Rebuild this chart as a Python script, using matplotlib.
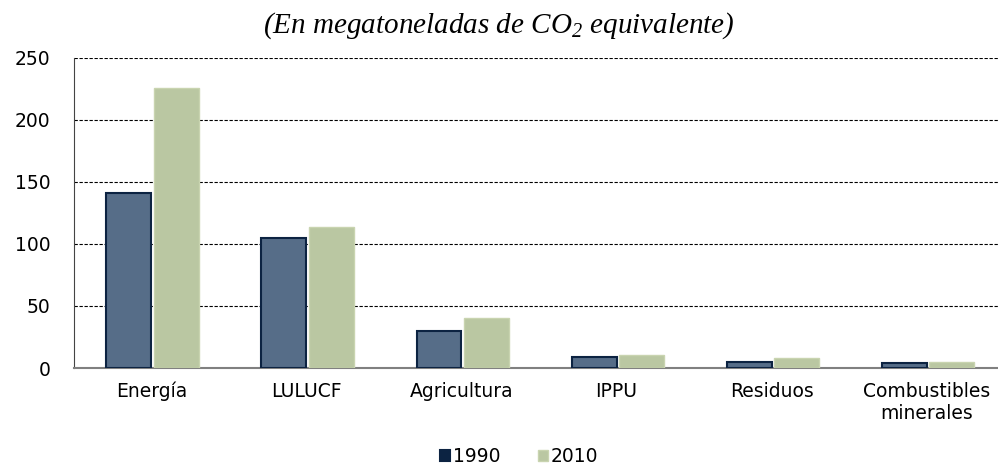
import matplotlib
matplotlib.use("Agg")
import matplotlib.pyplot as plt
import numpy as np

plt.rcParams["font.family"] = ["DejaVu Sans"]
plt.rcParams["mathtext.fontset"] = "custom"
plt.rcParams["mathtext.rm"] = "Liberation Serif:italic"
plt.rcParams["mathtext.it"] = "Liberation Serif:italic"

categorias = ["Energía", "LULUCF", "Agricultura", "IPPU", "Residuos",
              "Combustibles\nminerales"]
v1990 = [141, 105, 30, 9, 5, 4]
v2010 = [226, 114, 40, 10.5, 8, 5]
series = ["1990", "2010"]

fig = plt.figure(figsize=(9.98, 4.70), dpi=100)
# área del gráfico: x 74..998 px, y 58..368 px
ax = fig.add_axes([0.074, 0.217, 0.926, 0.66])

x = np.arange(len(categorias))
w = 0.29
ax.bar(x - 0.145, v1990, width=w, color="#566d88",
       edgecolor="#0c2342", linewidth=1.5, label=series[0], zorder=3)
ax.bar(x + 0.16, v2010, width=w, color="#bac7a2",
       edgecolor="#c9d4b0", linewidth=1.0, label=series[1], zorder=3)

ax.set_ylim(0, 250)
ax.set_xlim(-0.5, len(categorias) - 0.54)
ax.set_yticks([0, 50, 100, 150, 200, 250])
ax.set_xticks(x)
ax.set_xticklabels(categorias, fontsize=13.5)
ax.tick_params(axis="y", labelsize=13.5, length=0, pad=17)
ax.tick_params(axis="x", length=0, pad=10)
ax.yaxis.grid(True, linestyle=(0, (3, 1.5)), color="black", linewidth=0.8,
              zorder=0)
ax.set_axisbelow(True)
for s in ["top", "right"]:
    ax.spines[s].set_visible(False)
ax.spines["left"].set_color("#444444")
ax.spines["left"].set_linewidth(0.8)
ax.spines["bottom"].set_color("#808080")
ax.spines["bottom"].set_linewidth(1.5)

fig.text(0.5, 0.945, "(En megatoneladas de CO$_2$ equivalente)",
         ha="center", va="center", fontsize=21, style="italic",
         family="Liberation Serif")

leg = fig.legend(loc="center", bbox_to_anchor=(0.52, 0.028), ncol=2,
                 frameon=False, fontsize=13.5, handlelength=0.55,
                 handleheight=0.55, handletextpad=0.15, columnspacing=2.0,
                 borderaxespad=0, borderpad=0)
leg.legend_handles[0].set_facecolor("#0c2342")

fig.savefig("out.png", dpi=100)
